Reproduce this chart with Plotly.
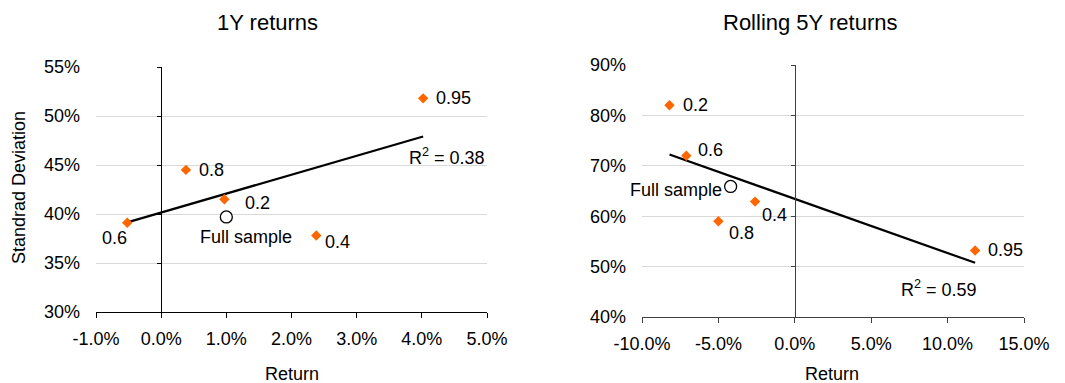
import numpy as np
import plotly.graph_objects as go

# ---- data (percent) ----
labels_1y = ["0.6", "0.8", "0.2", "0.4", "0.95"]
ret_1y = [-0.52, 0.38, 0.97, 2.38, 4.02]
sd_1y = [39.1, 44.5, 41.5, 37.8, 51.8]
full_1y_ret = [1.0]
full_1y_sd = [39.7]

labels_5y = ["0.2", "0.6", "0.4", "0.8", "0.95"]
ret_5y = [-8.2, -7.1, -2.6, -5.0, 11.8]
sd_5y = [82.0, 72.0, 62.9, 59.0, 53.2]
full_5y_ret = [-4.2]
full_5y_sd = [65.9]

x_ticks_1y = [-1, 0, 1, 2, 3, 4, 5]
y_ticks_1y = [30, 35, 40, 45, 50, 55]
x_ticks_5y = [-10, -5, 0, 5, 10, 15]
y_ticks_5y = [40, 50, 60, 70, 80, 90]

FONT = "Liberation Sans, Arial, sans-serif"
ORANGE = "#FF6600"
GRID = "#D9D9D9"
FS = 18

def trend(xs, ys):
    xs = np.array(xs); ys = np.array(ys)
    m, b = np.polyfit(xs, ys, 1)
    xx = np.array([xs.min(), xs.max()])
    r2 = np.corrcoef(xs, ys)[0, 1] ** 2
    return xx, m * xx + b, r2

fig = go.Figure()

tx1, ty1, r2_1 = trend(ret_1y, sd_1y)
tx2, ty2, r2_2 = trend(ret_5y, sd_5y)

fig.add_trace(go.Scatter(x=tx1, y=ty1, mode="lines", line=dict(color="black", width=2.2),
                         xaxis="x", yaxis="y", showlegend=False, hoverinfo="skip"))
fig.add_trace(go.Scatter(x=ret_1y, y=sd_1y, mode="markers",
                         marker=dict(symbol="diamond", size=8, color=ORANGE),
                         xaxis="x", yaxis="y", showlegend=False))
fig.add_trace(go.Scatter(x=full_1y_ret, y=full_1y_sd, mode="markers",
                         marker=dict(symbol="circle", size=12, color="white",
                                     line=dict(color="black", width=1.3)),
                         xaxis="x", yaxis="y", showlegend=False))

fig.add_trace(go.Scatter(x=tx2, y=ty2, mode="lines", line=dict(color="black", width=2.2),
                         xaxis="x2", yaxis="y2", showlegend=False, hoverinfo="skip"))
fig.add_trace(go.Scatter(x=ret_5y, y=sd_5y, mode="markers",
                         marker=dict(symbol="diamond", size=8, color=ORANGE),
                         xaxis="x2", yaxis="y2", showlegend=False))
fig.add_trace(go.Scatter(x=full_5y_ret, y=full_5y_sd, mode="markers",
                         marker=dict(symbol="circle", size=12, color="white",
                                     line=dict(color="black", width=1.3)),
                         xaxis="x2", yaxis="y2", showlegend=False))

# empty traces so the zero-position axes get drawn
fig.add_trace(go.Scatter(x=[], y=[], xaxis="x", yaxis="y3", showlegend=False))
fig.add_trace(go.Scatter(x=[], y=[], xaxis="x2", yaxis="y4", showlegend=False))

xr1 = [x_ticks_1y[0], x_ticks_1y[-1]]
yr1 = [y_ticks_1y[0], y_ticks_1y[-1]]
xr2 = [x_ticks_5y[0], x_ticks_5y[-1]]
yr2 = [y_ticks_5y[0], y_ticks_5y[-1]]

dx1 = [96 / 1065, 487 / 1065]
dy1 = [(383 - 312) / 383, (383 - 67) / 383]
dx2 = [642 / 1065, 1024 / 1065]
dy2 = [(383 - 317) / 383, (383 - 65) / 383]

def zero_pos(dom, rng):
    return dom[0] + (0 - rng[0]) / (rng[1] - rng[0]) * (dom[1] - dom[0])

tickfont = dict(family=FONT, size=FS, color="black")

def xaxis(dom, rng, ticks, anchor, lc):
    return dict(domain=dom, range=rng, anchor=anchor, tickvals=ticks, automargin=False,
                ticktext=[f"{v:.1f}%" for v in ticks], showgrid=False, zeroline=False,
                showline=True, linecolor=lc, linewidth=1, ticks="outside", ticklen=5,
                tickcolor=lc, tickfont=tickfont, ticklabelstandoff=5)

def yaxis(dom, rng, ticks, anchor):
    return dict(domain=dom, range=rng, anchor=anchor, tickvals=ticks, automargin=False,
                ticktext=[f"{v}%" for v in ticks], showgrid=True, gridcolor=GRID, gridwidth=1,
                zeroline=False, showline=False, ticks="", tickfont=tickfont,
                ticklabelstandoff=15)

def zaxis(dom, rng, ticks, over, pos, lc):
    return dict(domain=dom, range=rng, overlaying=over, anchor="free", position=pos,
                tickvals=ticks, showticklabels=False, showgrid=False, zeroline=False,
                showline=True, linecolor=lc, linewidth=1, ticks="outside", ticklen=4,
                tickcolor=lc, automargin=False)

fig.update_layout(
    width=1065, height=383,
    margin=dict(l=0, r=0, t=0, b=0, autoexpand=False),
    paper_bgcolor="white", plot_bgcolor="white",
    xaxis=xaxis(dx1, xr1, x_ticks_1y, "y", "black"),
    yaxis=yaxis(dy1, yr1, y_ticks_1y, "x"),
    xaxis2=xaxis(dx2, xr2, x_ticks_5y, "y2", "#404040"),
    yaxis2=yaxis(dy2, yr2, y_ticks_5y, "x2"),
    yaxis3=zaxis(dy1, yr1, y_ticks_1y, "y", zero_pos(dx1, xr1), "black"),
    yaxis4=zaxis(dy2, yr2, y_ticks_5y, "y2", zero_pos(dx2, xr2), "#404040"),
    font=dict(family=FONT, color="black"),
)

lab_font = dict(family=FONT, size=FS, color="black")
ann = []
# titles
for txt, xc in [("1Y returns", 267), ("Rolling 5Y returns", 810)]:
    ann.append(dict(text=txt, x=xc / 1065, y=1 - 23 / 383, xref="paper", yref="paper",
                    showarrow=False, font=dict(family=FONT, size=22, color="black"),
                    xanchor="center", yanchor="middle"))
# axis titles
for xc in [291.5, 832]:
    ann.append(dict(text="Return", x=xc / 1065, y=1 - 374 / 383, xref="paper", yref="paper",
                    showarrow=False, font=lab_font, xanchor="center", yanchor="middle"))
ann.append(dict(text="Standrad Deviation", x=19 / 1065, y=1 - 188 / 383, xref="paper", yref="paper",
                showarrow=False, font=lab_font, xanchor="center", yanchor="middle", textangle=-90))

# point labels (style offsets keyed by label)
off_1y = {"0.6": ("right", 2, -15), "0.8": ("left", 11, 0), "0.2": ("left", 19, -4),
          "0.4": ("left", 7, -6), "0.95": ("left", 11, 0)}
for lab, xv, yv in zip(labels_1y, ret_1y, sd_1y):
    a, xs, ys = off_1y[lab]
    ann.append(dict(text=lab, x=xv, y=yv, xref="x", yref="y", showarrow=False, font=lab_font,
                    xanchor=a, yanchor="middle", xshift=xs, yshift=ys))
ann.append(dict(text="Full sample", x=full_1y_ret[0], y=full_1y_sd[0], xref="x", yref="y",
                showarrow=False, font=lab_font, xanchor="center", yanchor="middle",
                xshift=20, yshift=-20))
ann.append(dict(text=f"R<sup>2</sup> = {r2_1:.2f}", x=5.0, y=45.85, xref="x", yref="y",
                showarrow=False, font=lab_font, xanchor="right", yanchor="middle"))

off_5y = {"0.2": ("left", 11, 0), "0.6": ("left", 10, 6), "0.4": ("left", 5, -13),
          "0.8": ("center", 23, -12), "0.95": ("left", 11, 0)}
for lab, xv, yv in zip(labels_5y, ret_5y, sd_5y):
    a, xs, ys = off_5y[lab]
    ann.append(dict(text=lab, x=xv, y=yv, xref="x2", yref="y2", showarrow=False, font=lab_font,
                    xanchor=a, yanchor="middle", xshift=xs, yshift=ys))
ann.append(dict(text="Full sample", x=full_5y_ret[0], y=full_5y_sd[0], xref="x2", yref="y2",
                showarrow=False, font=lab_font, xanchor="right", yanchor="middle",
                xshift=-7, yshift=-4))
ann.append(dict(text=f"R<sup>2</sup> = {r2_2:.2f}", x=12.06, y=45.7, xref="x2", yref="y2",
                showarrow=False, font=lab_font, xanchor="right", yanchor="middle"))

fig.update_layout(annotations=ann)
fig.write_html("out.html", config={"displayModeBar": False},
               post_script="document.body.style.margin='0';document.body.style.overflow='hidden';")
